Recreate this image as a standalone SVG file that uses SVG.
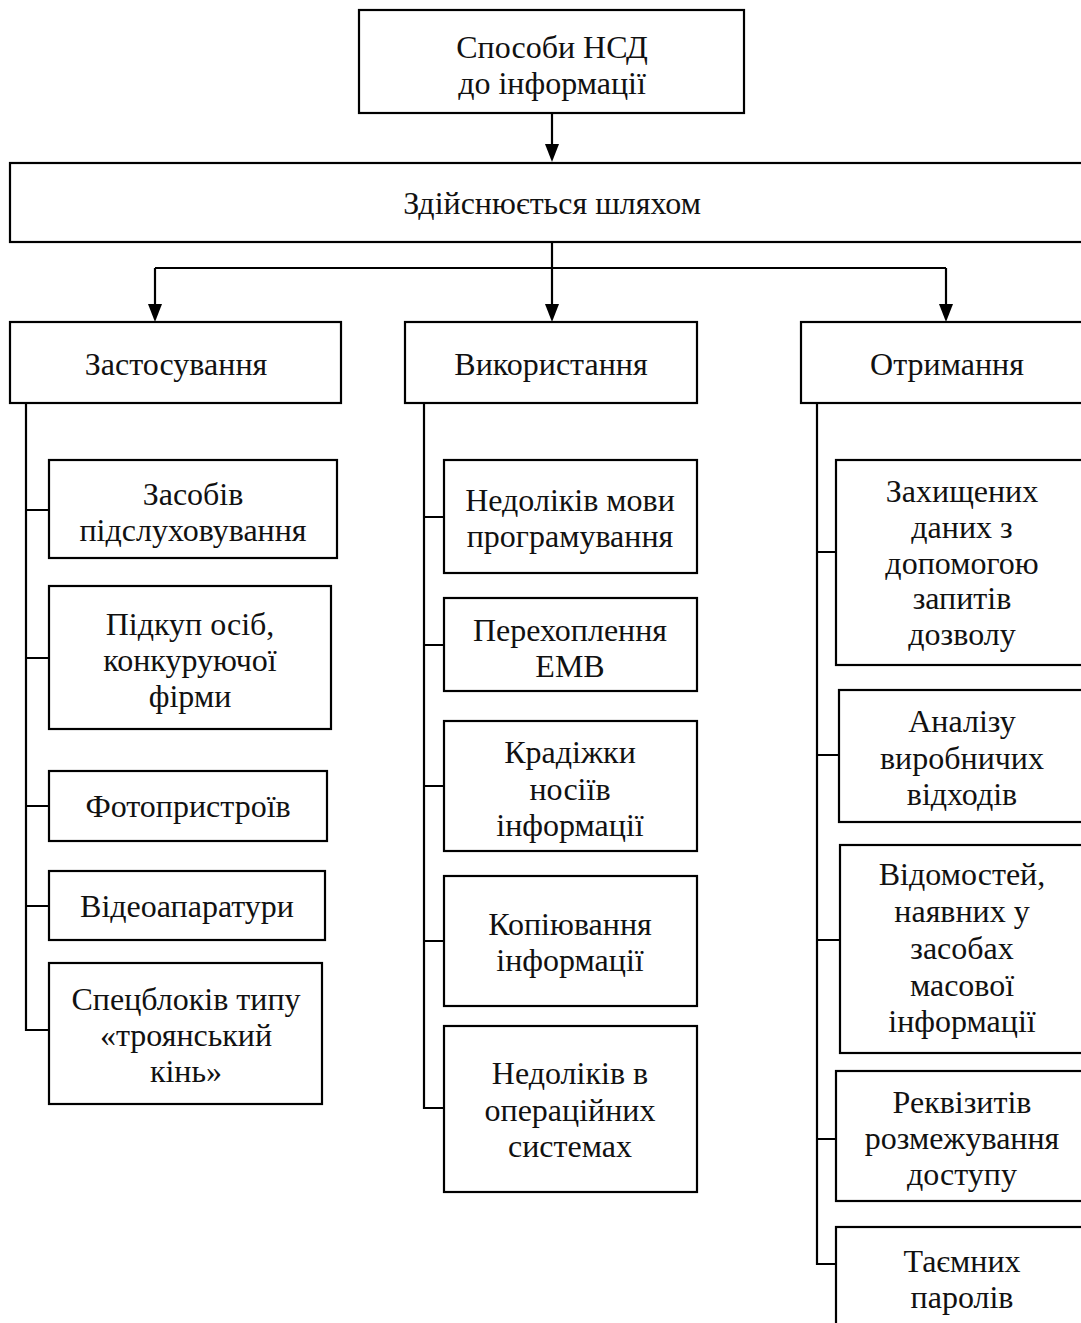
<svg xmlns="http://www.w3.org/2000/svg" width="1081" height="1323" viewBox="0 0 1081 1323">
<defs>
<style>
rect{fill:#fff;stroke:#000;stroke-width:2.2}
text{font-family:"Liberation Serif","Times New Roman",serif;font-size:32px;fill:#111;text-anchor:middle}
.c{fill:none;stroke:#000;stroke-width:2.2}
.a{fill:#000}
</style>
</defs>
<g id="connectors">
<path class="c" d="M552,113 V144"/>
<path class="a" d="M545,144 H559 L552,162 Z"/>
<path class="c" d="M552,242 V304"/>
<path class="a" d="M545,304 H559 L552,322 Z"/>
<path class="c" d="M155,268 H946"/>
<path class="c" d="M155,268 V304"/>
<path class="a" d="M148,304 H162 L155,322 Z"/>
<path class="c" d="M946,268 V304"/>
<path class="a" d="M939,304 H953 L946,322 Z"/>
<path class="c" d="M26,403 V1030 H49 M26,510 H49 M26,658 H49 M26,806 H49 M26,906 H49"/>
<path class="c" d="M424,403 V1108 H444 M424,517 H444 M424,645 H444 M424,786 H444 M424,941 H444"/>
<path class="c" d="M817,403 V1264 H836 M817,552 H836 M817,755 H839 M817,940 H840 M817,1139 H836"/>
</g>
<g id="n-root"><rect x="359" y="10" width="385" height="103"/><text x="552" y="58">Способи НСД</text><text x="552" y="94">до інформації</text></g>
<g id="n-way"><rect x="10" y="163" width="1090" height="79"/><text x="552" y="214">Здійснюється шляхом</text></g>
<g id="n-zast"><rect x="10" y="322" width="331" height="81"/><text x="176" y="375">Застосування</text></g>
<g id="n-vyk"><rect x="405" y="322" width="292" height="81"/><text x="551" y="375">Використання</text></g>
<g id="n-otr"><rect x="801" y="322" width="300" height="81"/><text x="947" y="375">Отримання</text></g>

<g id="n-l1"><rect x="49" y="460" width="288" height="98"/><text x="193" y="505">Засобів</text><text x="193" y="541">підслуховування</text></g>
<g id="n-l2"><rect x="49" y="586" width="282" height="143"/><text x="190" y="635">Підкуп осіб,</text><text x="190" y="671">конкуруючої</text><text x="190" y="707">фірми</text></g>
<g id="n-l3"><rect x="49" y="771" width="278" height="70"/><text x="188" y="817">Фотопристроїв</text></g>
<g id="n-l4"><rect x="49" y="871" width="276" height="69"/><text x="187" y="917">Відеоапаратури</text></g>
<g id="n-l5"><rect x="49" y="963" width="273" height="141"/><text x="186" y="1010">Спецблоків типу</text><text x="186" y="1046">«троянський</text><text x="186" y="1082">кінь»</text></g>

<g id="n-m1"><rect x="444" y="460" width="253" height="113"/><text x="570" y="511">Недоліків мови</text><text x="570" y="547">програмування</text></g>
<g id="n-m2"><rect x="444" y="598" width="253" height="93"/><text x="570" y="641">Перехоплення</text><text x="570" y="677">ЕМВ</text></g>
<g id="n-m3"><rect x="444" y="721" width="253" height="130"/><text x="570" y="763">Крадіжки</text><text x="570" y="800">носіїв</text><text x="570" y="836">інформації</text></g>
<g id="n-m4"><rect x="444" y="876" width="253" height="130"/><text x="570" y="935">Копіювання</text><text x="570" y="971">інформації</text></g>
<g id="n-m5"><rect x="444" y="1026" width="253" height="166"/><text x="570" y="1084">Недоліків в</text><text x="570" y="1121">операційних</text><text x="570" y="1157">системах</text></g>

<g id="n-r1"><rect x="836" y="460" width="260" height="205"/><text x="962" y="502">Захищених</text><text x="962" y="538">даних з</text><text x="962" y="574">допомогою</text><text x="962" y="609">запитів</text><text x="962" y="645">дозволу</text></g>
<g id="n-r2"><rect x="839" y="690" width="257" height="132"/><text x="962" y="732">Аналізу</text><text x="962" y="769">виробничих</text><text x="962" y="805">відходів</text></g>
<g id="n-r3"><rect x="840" y="845" width="256" height="208"/><text x="962" y="885">Відомостей,</text><text x="962" y="922">наявних у</text><text x="962" y="959">засобах</text><text x="962" y="996">масової</text><text x="962" y="1032">інформації</text></g>
<g id="n-r4"><rect x="836" y="1071" width="260" height="130"/><text x="962" y="1113">Реквізитів</text><text x="962" y="1149">розмежування</text><text x="962" y="1185">доступу</text></g>
<g id="n-r5"><rect x="836" y="1227" width="260" height="110"/><text x="962" y="1272">Таємних</text><text x="962" y="1308">паролів</text></g>
</svg>
